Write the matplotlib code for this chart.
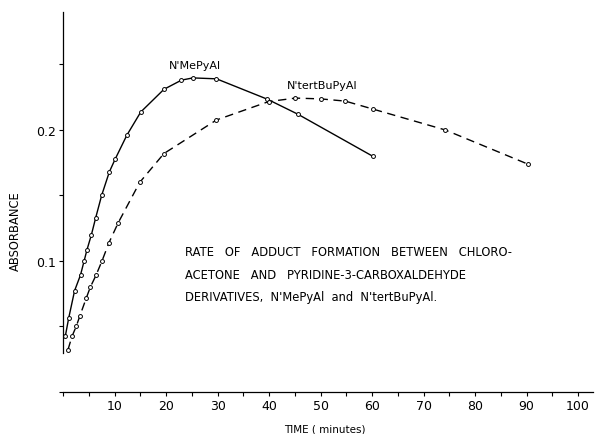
import matplotlib
matplotlib.use("Agg")
import matplotlib.pyplot as plt
from matplotlib.ticker import MultipleLocator

# N'MePyAl (solid)
me_time = [0.45, 1.1, 2.25, 3.4, 4.1, 4.66, 5.5, 6.35, 7.5, 9.0, 10.1, 12.4, 15.1,
           19.6, 23.0, 25.2, 29.8, 39.7, 45.6, 60.1]
me_abs = [0.0426, 0.0563, 0.0773, 0.0893, 0.100, 0.1086, 0.1198, 0.133, 0.150, 0.168,
          0.1775, 0.196, 0.2137, 0.231, 0.238, 0.2397, 0.239, 0.2234, 0.212, 0.180]

# N'tertBuPyAl (dashed)
bu_time = [0.97, 1.75, 2.58, 3.25, 4.53, 5.3, 6.4, 7.6, 8.9, 10.7, 14.9, 19.6, 29.8,
           39.9, 45.1, 50.0, 54.8, 60.1, 74.2, 90.2]
bu_abs = [0.0323, 0.0425, 0.0502, 0.0578, 0.0718, 0.080, 0.089, 0.1003, 0.1137, 0.129,
          0.160, 0.182, 0.2076, 0.2216, 0.2243, 0.2237, 0.222, 0.216, 0.200, 0.174]

x_ticks = [10, 20, 30, 40, 50, 60, 70, 80, 90, 100]
y_ticks = [0.1, 0.2]
y_ticklabels = ["0.1", "0.2"]

fig = plt.figure(figsize=(5.95, 4.35), dpi=100)
ax = fig.add_axes([63/595, 42/435, 530/595, 380/435])

ax.plot(me_time, me_abs, color="black", lw=1.0, marker="o", ms=2.8,
        mfc="white", mec="black", mew=0.7)
ax.plot(bu_time, bu_abs, color="black", lw=1.0, ls=(0, (6, 4)), marker="o", ms=2.8,
        mfc="white", mec="black", mew=0.7)

ax.set_xlim(0, 102.9)
ax.set_ylim(0, 0.29)
for s in ["top", "right"]:
    ax.spines[s].set_visible(False)
ax.spines["left"].set_bounds(0.03, 0.29)
for s in ["left", "bottom"]:
    ax.spines[s].set_linewidth(0.9)

ax.set_xticks(x_ticks)
ax.set_xticklabels([str(t) for t in x_ticks], fontsize=9)
ax.xaxis.set_minor_locator(MultipleLocator(5))
ax.set_yticks(y_ticks)
ax.set_yticklabels(y_ticklabels, fontsize=9)
ax.yaxis.set_minor_locator(MultipleLocator(0.05))
ax.tick_params(axis="both", which="both", direction="out", length=3, width=0.8, pad=2)

ax.set_xlabel("TIME ( minutes)", fontsize=7.5)
ax.xaxis.set_label_coords(0.494, -0.082)
ax.set_ylabel("ABSORBANCE", fontsize=8.3)
ax.yaxis.set_label_coords(-0.078, 0.425)

ax.text(25.6, 0.2496, "N'MePyAl", fontsize=8, ha="center", va="center")
ax.text(50.3, 0.2344, "N'tertBuPyAl", fontsize=8, ha="center", va="center")

lines = ["RATE   OF   ADDUCT   FORMATION   BETWEEN   CHLORO-",
         "ACETONE   AND   PYRIDINE-3-CARBOXALDEHYDE",
         "DERIVATIVES,  N'MePyAl  and  N'tertBuPyAl."]
ys = [0.107, 0.090, 0.0725]
for t, yy in zip(lines, ys):
    ax.text(23.7, yy, t, fontsize=8.3, ha="left", va="center")

fig.savefig("out.png", dpi=100)
